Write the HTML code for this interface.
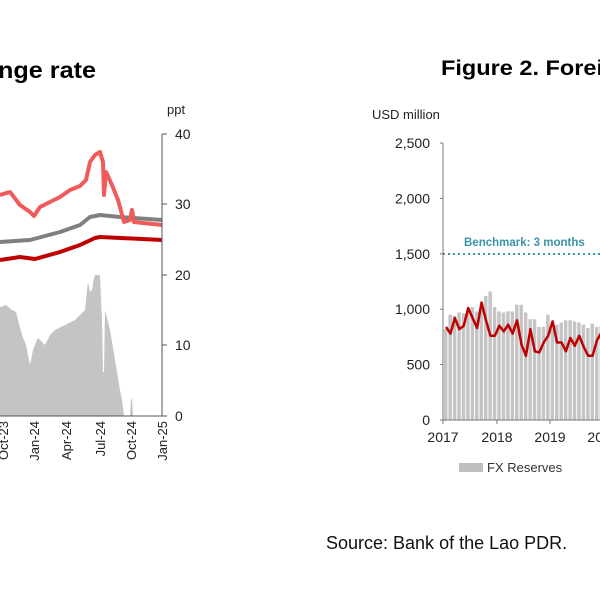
<!DOCTYPE html>
<html><head><meta charset="utf-8"><style>
body{margin:0;background:#fff;width:600px;height:600px;overflow:hidden}
svg{display:block;font-family:"Liberation Sans",Arial,sans-serif}
</style></head><body>
<svg id="s" width="600" height="600" viewBox="0 0 600 600" xmlns="http://www.w3.org/2000/svg">
<text x="-2" y="78" font-family="Liberation Sans Narrow, Liberation Sans, sans-serif" font-weight="bold" font-size="23" fill="#000" textLength="98" lengthAdjust="spacingAndGlyphs">nge rate</text>
<text x="441" y="75" font-family="Liberation Sans Narrow, Liberation Sans, sans-serif" font-weight="bold" font-size="21" fill="#000" textLength="162" lengthAdjust="spacingAndGlyphs">Figure 2. Forei</text>
<text x="167" y="114" font-size="13" fill="#222">ppt</text>
<text x="372" y="119" font-size="13" fill="#222">USD million</text>
<g id="left"></g>
<g id="right"></g>
<text x="326" y="549" font-size="18" fill="#111">Source: Bank of the Lao PDR.</text>
<rect x="459" y="463" width="24" height="9" fill="#bfbfbf"/>
<text x="487" y="472" font-size="13" fill="#333">FX Reserves</text>
</svg>
<script>
const NS="http://www.w3.org/2000/svg";
function el(p,t,a,txt){const e=document.createElementNS(NS,t);for(const k in a)e.setAttribute(k,a[k]);if(txt!==undefined)e.textContent=txt;p.appendChild(e);return e;}
const L=document.getElementById('left');
const area=[[0,307],[6,305],[12,310],[16,312],[18,320],[22,335],[26,345],[28,355],[30,365],[33,350],[36,342],[38,338],[42,342],[45,345],[50,335],[55,330],[65,325],[75,320],[80,315],[85,310],[87,290],[88,282],[90,292],[92,290],[94,278],[95,275],[100,275],[101,300],[102,320],[103,372],[104,372],[105,310],[107,318],[110,330],[115,360],[118,378],[120,390],[122,400],[124,416],[130,416],[131,400],[132,398],[133,416]];
el(L,'polygon',{points:'0,416 '+area.map(p=>p.join(',')).join(' ')+' 162,416',fill:'#c4c4c4'});
function line(g,pts,c,w){el(g,'polyline',{points:pts.map(p=>p.join(',')).join(' '),fill:'none',stroke:c,'stroke-width':w,'stroke-linejoin':'round'});}
line(L,[[0,242],[30,240],[60,232],[80,225],[90,217],[100,215],[120,217],[162,220]],'#7f7f7f',4);
line(L,[[0,260],[20,257],[35,259],[60,252],[80,245],[95,238],[100,237],[162,240]],'#c00000',4);
line(L,[[0,195],[10,192],[20,205],[30,212],[34,216],[40,207],[60,197],[70,190],[80,186],[86,180],[90,162],[95,155],[100,152],[103,162],[104,195],[106,172],[112,185],[118,200],[124,222],[130,220],[132,210],[134,222],[162,225]],'#f05a5a',4);
el(L,'line',{x1:162,y1:134,x2:162,y2:416,stroke:'#555','stroke-width':1});
[[40,134],[30,204],[20,275],[10,345],[0,416]].forEach(([v,y])=>{el(L,'line',{x1:162,y1:y,x2:167,y2:y,stroke:'#555'});el(L,'text',{x:175,y:y+5,'font-size':14,fill:'#222'},v);});
el(L,'line',{x1:0,y1:416,x2:162,y2:416,stroke:'#555'});
[['Oct-23',3],['Jan-24',34],['Apr-24',66],['Jul-24',100],['Oct-24',131],['Jan-25',162]].forEach(([t,x])=>{el(L,'text',{x:0,y:0,'font-size':13,fill:'#222','text-anchor':'end',transform:`translate(${x+5},421) rotate(-90)`},t);});
const R=document.getElementById('right');
const bars=[820,950,940,970,960,1000,1020,980,1000,1120,1160,1020,980,970,980,980,1040,1040,970,910,910,840,840,950,820,860,880,900,900,890,880,860,830,870,840,850,820,850,880,1000,1010,1000];
const y0=420,k=0.1108,dx=53.3/12;
bars.forEach((v,i)=>{el(R,'rect',{x:444+i*dx,y:y0-v*k,width:dx-1,height:v*k,fill:'#c4c4c4'});});
const red=[840,780,920,820,850,1010,920,830,1060,900,760,760,850,800,860,780,900,680,580,820,620,610,700,760,890,700,700,620,740,670,760,660,580,580,720,790,860,900,940,980,1000,1000];
line(R,red.map((v,i)=>[446+i*dx,y0-v*k]),'#c00000',2.5);
el(R,'line',{x1:443,y1:254,x2:600,y2:254,stroke:'#3a93a8','stroke-width':2,'stroke-dasharray':'2,3'});
el(R,'text',{x:464,y:246,'font-size':11.5,'font-weight':'bold',fill:'#3a93a8'},'Benchmark: 3 months');
el(R,'line',{x1:443,y1:143,x2:443,y2:420,stroke:'#777'});
el(R,'line',{x1:443,y1:420,x2:600,y2:420,stroke:'#777'});
[[0,'0'],[500,'500'],[1000,'1,000'],[1500,'1,500'],[2000,'2,000'],[2500,'2,500']].forEach(([v,t])=>{const y=y0-v*k;el(R,'line',{x1:440,y1:y,x2:443,y2:y,stroke:'#777'});el(R,'text',{x:430,y:y+5,'font-size':14,fill:'#222','text-anchor':'end'},t);});
[['2017',443],['2018',497],['2019',550],['2020',603]].forEach(([t,x])=>{el(R,'line',{x1:x,y1:420,x2:x,y2:424,stroke:'#777'});el(R,'text',{x:x,y:442,'font-size':14,fill:'#222','text-anchor':'middle'},t);});
</script>
</body></html>
